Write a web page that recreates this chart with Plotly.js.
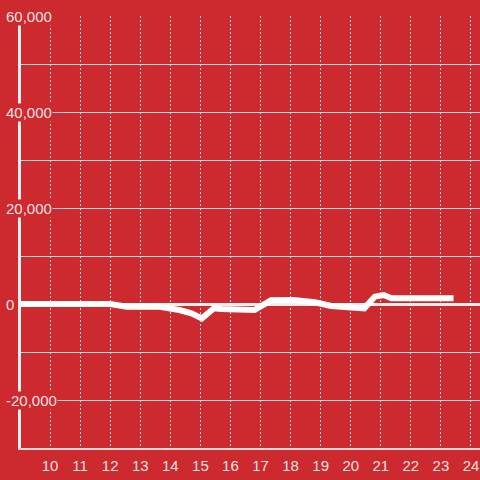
<!DOCTYPE html>
<html>
<head>
<meta charset="utf-8">
<script src="https://cdn.plot.ly/plotly-3.0.1.min.js"></script>
<style>html,body{margin:0;padding:0;background:#cc2a2f;}#chart{width:480px;height:480px;}</style>
</head>
<body>
<div id="chart"></div>
<script>
// Data (hour of day vs. value)
const hours  = [9, 12.0, 12.55, 13.65, 14.3, 14.7, 15.05, 15.45, 15.7, 16.8, 17.35, 18.1, 18.8, 19.35, 20.45, 20.8, 21.1, 21.35, 23.42];
const values = [0, 0, -560, -560, -1250, -1950, -2990, -900, -1040, -1250, 760, 830, 350, -420, -900, 1530, 1870, 1180, 1180];

const xTickVals = [10, 11, 12, 13, 14, 15, 16, 17, 18, 19, 20, 21, 22, 23, 24];
const yTickVals = [60000, 40000, 20000, 0, -20000];
const yTickText = ["60,000", "40,000", "20,000", "0", "-20,000"];

const bg = "#cc2a2f";
const labelColor = "rgba(255,255,255,0.88)";
const font = {family: "Liberation Sans, Arial, sans-serif", size: 15, color: labelColor};

const trace = {
  x: hours, y: values, type: "scatter", mode: "lines",
  line: {color: "#ffffff", width: 6},
  hoverinfo: "skip"
};

const annotations = yTickVals.map((v, i) => ({
  xref: "paper", yref: "y", x: -16/459, y: v,
  xanchor: "left", yanchor: "middle",
  text: yTickText[i], showarrow: false,
  font: font, bgcolor: bg, borderpad: 0
}));

const layout = {
  width: 480, height: 480,
  paper_bgcolor: bg, plot_bgcolor: bg,
  margin: {l: 21, r: 0, t: 16, b: 32},
  showlegend: false,
  font: font,
  xaxis: {
    range: [9 + 1/30, 24.3],
    tickvals: xTickVals,
    ticks: "", ticklabelstandoff: 3,
    showgrid: true, gridcolor: "rgba(235,235,235,0.9)", gridwidth: 1, griddash: "2px,2px",
    zeroline: false,
    showline: true, linecolor: "#d9d9d9", linewidth: 2,
    tickfont: font
  },
  yaxis: {
    range: [-30000, 60000],
    dtick: 10000,
    showticklabels: false, ticks: "",
    showgrid: true, gridcolor: "#d6d6d6", gridwidth: 1,
    zeroline: true, zerolinecolor: "#eeeeee", zerolinewidth: 3,
    showline: true, linecolor: "#eeeeee", linewidth: 3
  },
  annotations: annotations
};

Plotly.newPlot("chart", [trace], layout, {staticPlot: true, displayModeBar: false});
</script>
</body>
</html>
